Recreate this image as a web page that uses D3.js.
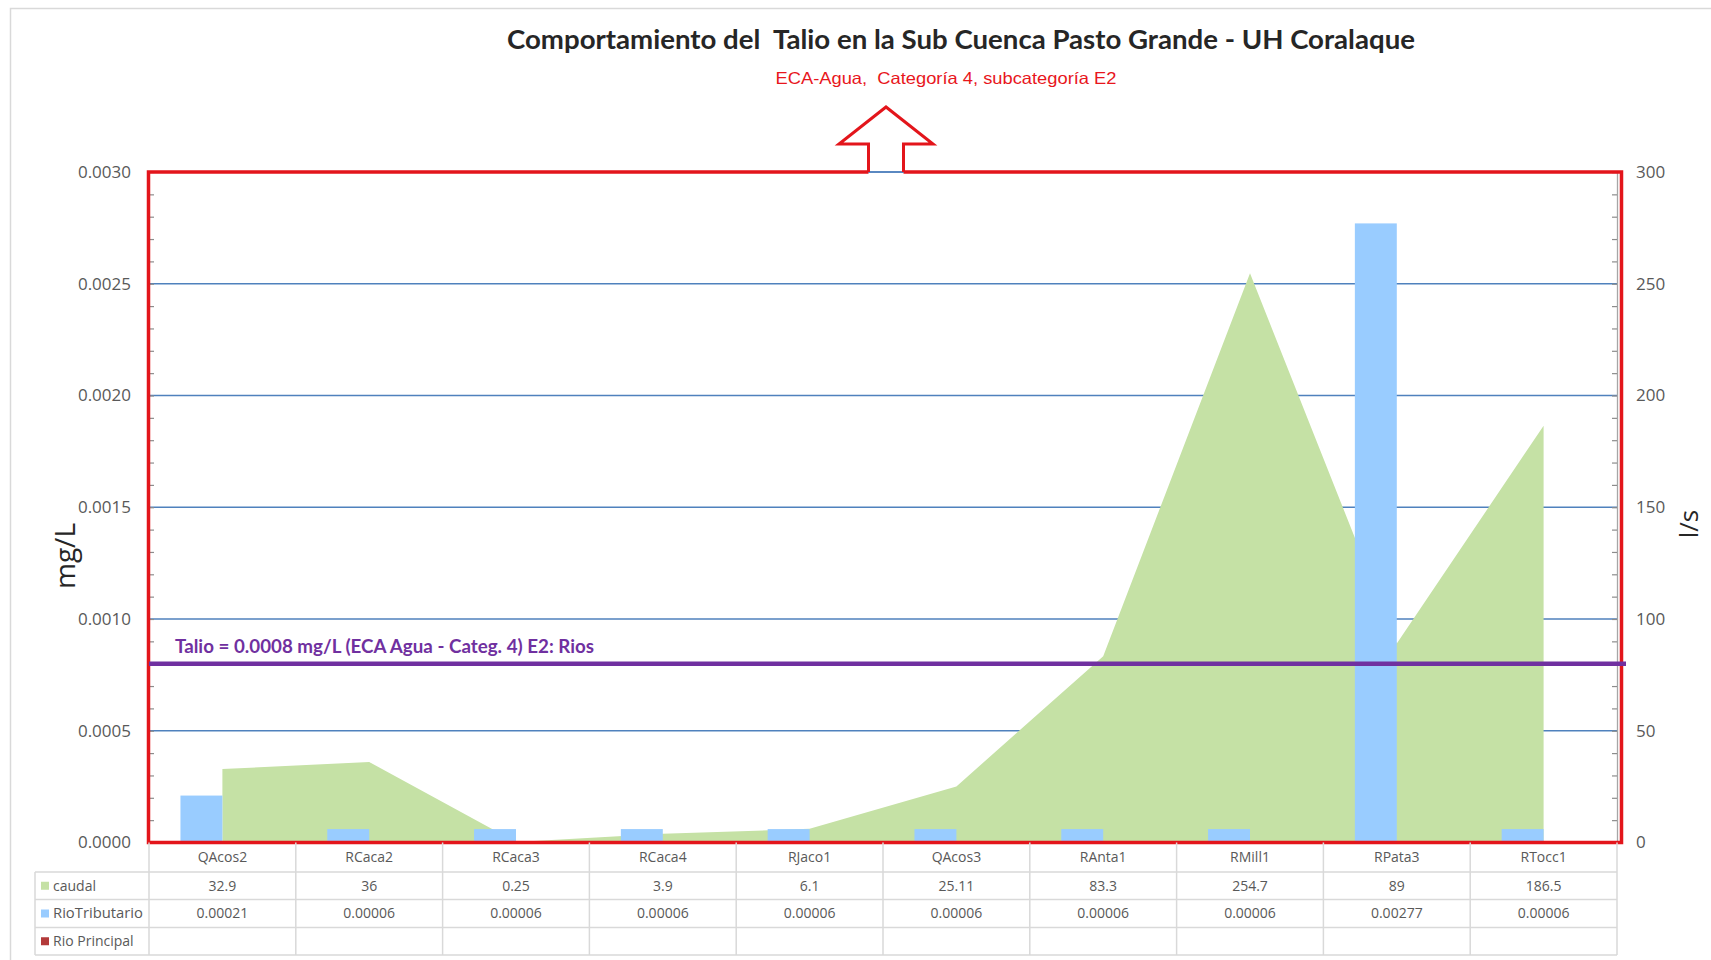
<!DOCTYPE html>
<html>
<head>
<meta charset="utf-8">
<script src="https://cdn.jsdelivr.net/npm/d3@7"></script>
<style>
  html, body { margin: 0; padding: 0; background: #fff; }
  svg { display: block; }
  text { white-space: pre; }
</style>
</head>
<body>
<script>
// ---- data ----
const categories = ["QAcos2", "RCaca2", "RCaca3", "RCaca4", "RJaco1", "QAcos3", "RAnta1", "RMill1", "RPata3", "RTocc1"];
const caudal = [32.9, 36, 0.25, 3.9, 6.1, 25.11, 83.3, 254.7, 89, 186.5];
const caudalLabels = ["32.9", "36", "0.25", "3.9", "6.1", "25.11", "83.3", "254.7", "89", "186.5"];
const rioTributario = [0.00021, 0.00006, 0.00006, 0.00006, 0.00006, 0.00006, 0.00006, 0.00006, 0.00277, 0.00006];
const rioTributarioLabels = ["0.00021", "0.00006", "0.00006", "0.00006", "0.00006", "0.00006", "0.00006", "0.00006", "0.00277", "0.00006"];
const rioPrincipal = [null, null, null, null, null, null, null, null, null, null];
const barSeries = ["RioTributario", "Rio Principal"];
const leftTicks = [0, 0.0005, 0.0010, 0.0015, 0.0020, 0.0025, 0.0030];
const rightTicks = [0, 50, 100, 150, 200, 250, 300];
const limitValue = 0.0008;

const W = 1711, H = 960;
const plot = { left: 149, right: 1617, top: 172, bottom: 842.5 };

const C = {
  area: "#c5e1a5",
  bar: "#99ccff",
  principal: "#b33a3a",
  grid: "#4f81bd",
  red: "#e3151b",
  purple: "#7030a0",
  tick: "#595959",
  table: "#d9d9d9"
};

const svg = d3.select("body").append("svg").attr("width", W).attr("height", H);

// outer chart border
svg.append("path")
  .attr("d", `M10.5,${H + 2} V8.5 H${W + 2}`)
  .attr("fill", "none").attr("stroke", "#d9d9d9").attr("stroke-width", 1.5);

// ---- scales ----
const x = d3.scaleBand().domain(categories).range([plot.left, plot.right]).paddingInner(0).paddingOuter(0);
const xs = d3.scaleBand().domain(barSeries).range([0, x.bandwidth()]).paddingInner(0).paddingOuter(0.75);
const yL = d3.scaleLinear().domain([0, 0.003]).range([plot.bottom, plot.top]);
const yR = d3.scaleLinear().domain([0, 300]).range([plot.bottom, plot.top]);
const cx = c => x(c) + x.bandwidth() / 2;

// ---- gridlines ----
svg.append("g").selectAll("line").data(leftTicks.filter(d => d > 0)).join("line")
  .attr("x1", plot.left).attr("x2", plot.right)
  .attr("y1", d => yL(d)).attr("y2", d => yL(d))
  .attr("stroke", C.grid).attr("stroke-width", 1.3);

// ---- caudal area (right axis) ----
const areaGen = d3.area()
  .x((d, i) => cx(categories[i]))
  .y0(yR(0))
  .y1(d => yR(d));
svg.append("path").datum(caudal).attr("d", areaGen).attr("fill", C.area);

// ---- bars (left axis) ----
svg.append("g").selectAll("rect").data(rioTributario).join("rect")
  .attr("x", (d, i) => x(categories[i]) + xs("RioTributario"))
  .attr("width", xs.bandwidth())
  .attr("y", d => yL(d))
  .attr("height", d => yL(0) - yL(d))
  .attr("fill", C.bar);
svg.append("g").selectAll("rect").data(rioPrincipal.filter(d => d != null)).join("rect")
  .attr("fill", C.principal);

// ---- axes ----
const fmtL = d3.format(".4f");
const gL = svg.append("g").attr("transform", `translate(${plot.left},0)`)
  .call(d3.axisLeft(yL).tickValues(leftTicks).tickFormat(fmtL).tickSize(0).tickPadding(18));
gL.select(".domain").remove();
gL.selectAll("text").attr("fill", C.tick).style("font", "17px 'Open Sans', sans-serif");

// left minor ticks
const gLm = svg.append("g").attr("transform", `translate(${plot.left},0)`)
  .call(d3.axisLeft(yL).tickValues(d3.range(0, 31).map(k => k / 10000)).tickFormat("").tickSize(-5));
gLm.select(".domain").remove();
gLm.selectAll("line").attr("stroke", "#8c8c8c").attr("stroke-width", 1.2);

const gR = svg.append("g").attr("transform", `translate(${plot.right},0)`)
  .call(d3.axisRight(yR).tickValues(d3.range(0, 301, 10)).tickFormat("").tickSize(-5));
gR.select(".domain").attr("stroke", "#a6a6a6").attr("stroke-width", 1.3);
gR.selectAll("line").attr("stroke", "#8c8c8c").attr("stroke-width", 1.2);

const gR2 = svg.append("g").attr("transform", `translate(${plot.right},0)`)
  .call(d3.axisRight(yR).tickValues(rightTicks).tickFormat(d3.format("d")).tickSize(0).tickPadding(19));
gR2.select(".domain").remove();
gR2.selectAll("text").attr("fill", C.tick).style("font", "17px 'Open Sans', sans-serif");

// axis titles
svg.append("text")
  .attr("transform", `translate(${plot.left - 84},556) rotate(-90)`)
  .attr("text-anchor", "middle").attr("dy", "0.35em")
  .attr("fill", "#262626").style("font", "28px 'Open Sans', sans-serif")
  .text("mg/L");
svg.append("text")
  .attr("transform", `translate(${plot.right + 72},524) rotate(-90)`)
  .attr("text-anchor", "middle").attr("dy", "0.35em")
  .attr("fill", "#262626").style("font", "26px 'Open Sans', sans-serif")
  .text("l/s");

// ---- red frame with arrow ----
const arrow = { cx: 886, tip: 107, headBase: 144, headHalf: 47, shaftHalf: 17.5 };
const frameL = plot.left - 0.5, frameR = plot.right + 4.5;
const frame = svg.append("g").attr("fill", "none").attr("stroke", C.red).attr("stroke-width", 3.5);
frame.append("path").attr("d",
  `M${arrow.cx - arrow.shaftHalf},${plot.top} H${frameL} V${plot.bottom} H${frameR} V${plot.top} H${arrow.cx + arrow.shaftHalf}`);
// top gridline visible inside the arrow shaft
svg.append("line")
  .attr("x1", arrow.cx - arrow.shaftHalf).attr("x2", arrow.cx + arrow.shaftHalf)
  .attr("y1", yL(0.003)).attr("y2", yL(0.003))
  .attr("stroke", C.grid).attr("stroke-width", 1.5);
svg.append("path")
  .attr("d", `M${arrow.cx - arrow.shaftHalf},${plot.top} V${arrow.headBase} H${arrow.cx - arrow.headHalf} L${arrow.cx},${arrow.tip} L${arrow.cx + arrow.headHalf},${arrow.headBase} H${arrow.cx + arrow.shaftHalf} V${plot.top}`)
  .attr("fill", "none").attr("stroke", C.red).attr("stroke-width", 3).attr("stroke-linejoin", "miter");

// ---- limit line ----
svg.append("line")
  .attr("x1", plot.left).attr("x2", plot.right + 9)
  .attr("y1", yL(limitValue)).attr("y2", yL(limitValue))
  .attr("stroke", C.purple).attr("stroke-width", 4.5);
svg.append("text")
  .attr("x", 175).attr("y", yL(limitValue) - 11)
  .attr("fill", C.purple).attr("textLength", 419).attr("lengthAdjust", "spacingAndGlyphs")
  .style("font", "bold 18px Lato, sans-serif")
  .text("Talio = 0.0008 mg/L (ECA Agua - Categ. 4) E2: Rios");

// ---- titles ----
svg.append("text")
  .attr("x", 961).attr("y", 49).attr("text-anchor", "middle")
  .attr("fill", "#262626").attr("textLength", 908).attr("lengthAdjust", "spacingAndGlyphs")
  .style("font", "bold 27px Lato, sans-serif")
  .text("Comportamiento del  Talio en la Sub Cuenca Pasto Grande - UH Coralaque");
svg.append("text")
  .attr("x", 946).attr("y", 84).attr("text-anchor", "middle")
  .attr("fill", "#e8161c").attr("textLength", 341).attr("lengthAdjust", "spacingAndGlyphs")
  .style("font", "16.5px 'Liberation Sans', Arial, sans-serif")
  .text("ECA-Agua,  Categoría 4, subcategoría E2");

// ---- data table ----
const tbl = { left: 35, rows: [plot.bottom, 872, 899.5, 927.5, 955] };
const tg = svg.append("g").attr("stroke", C.table).attr("stroke-width", 1.5);
// horizontal rules
tbl.rows.slice(1).forEach(yv => {
  tg.append("line").attr("x1", tbl.left).attr("x2", plot.right).attr("y1", yv).attr("y2", yv);
});
// vertical rules
const bounds = categories.map(c => x(c)).concat([plot.right]);
tg.selectAll("line.v").data(bounds).join("line").attr("class", "v")
  .attr("x1", d => d).attr("x2", d => d)
  .attr("y1", tbl.rows[0]).attr("y2", tbl.rows[4]);
tg.append("line").attr("x1", tbl.left).attr("x2", tbl.left).attr("y1", tbl.rows[1]).attr("y2", tbl.rows[4]);

const rowMid = k => (tbl.rows[k] + tbl.rows[k + 1]) / 2;
const cellFont = "14px 'Open Sans', sans-serif";
const textRow = (vals, k) => svg.append("g").selectAll("text").data(vals).join("text")
  .attr("x", (d, i) => cx(categories[i])).attr("y", rowMid(k))
  .attr("text-anchor", "middle").attr("dy", "0.35em")
  .attr("fill", C.tick).style("font", cellFont)
  .text(d => d);
textRow(categories, 0);
textRow(caudalLabels, 1);
textRow(rioTributarioLabels, 2);
textRow(rioPrincipal.map(d => d == null ? "" : String(d)), 3);

// legend keys in the first column
const legendRows = [
  { name: "caudal", color: C.area },
  { name: "RioTributario", color: C.bar },
  { name: "Rio Principal", color: C.principal }
];
legendRows.forEach((r, k) => {
  const ym = rowMid(k + 1);
  svg.append("rect").attr("x", 41).attr("y", ym - 4).attr("width", 8).attr("height", 8).attr("fill", r.color);
  svg.append("text").attr("x", 53).attr("y", ym).attr("dy", "0.35em")
    .attr("fill", C.tick).style("font", cellFont)
    .attr("textLength", r.name === "RioTributario" ? 90 : null)
    .attr("lengthAdjust", "spacingAndGlyphs")
    .text(r.name);
});
</script>
</body>
</html>
